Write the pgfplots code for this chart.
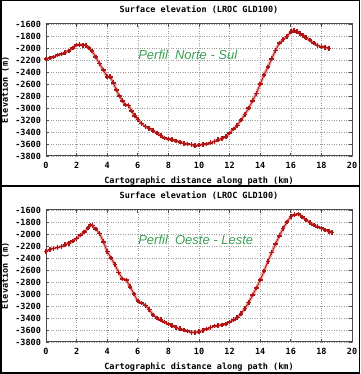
\documentclass[border=0pt]{standalone}
\usepackage{pgfplots}
\pgfplotsset{compat=1.18}
\usepackage{pgfplotstable}
\usepackage{fontspec}
\setmainfont{DejaVu Sans Mono}
\newfontfamily\gpfont{DejaVu Sans Mono Bold}
\newfontfamily\grfont{Liberation Sans}
\definecolor{curve}{RGB}{175,22,22}
\definecolor{glow}{RGB}{240,140,140}
\definecolor{lbl}{RGB}{60,160,85}

\pgfplotstableread{
x y
0 -2185
0.25 -2170
0.5 -2150
0.75 -2120
1.0 -2100
1.25 -2075
1.5 -2050
1.75 -2000
2.0 -1950
2.2 -1940
2.4 -1955
2.6 -1960
2.8 -2000
3.0 -2050
3.25 -2150
3.5 -2260
3.75 -2370
4.0 -2480
4.2 -2480
4.4 -2580
4.6 -2700
4.8 -2800
5.0 -2880
5.2 -2950
5.4 -2960
5.6 -3050
5.8 -3130
6.0 -3190
6.25 -3260
6.5 -3310
6.75 -3340
7.0 -3380
7.25 -3420
7.5 -3460
7.75 -3500
8.0 -3520
8.25 -3530
8.5 -3550
8.75 -3570
9.0 -3590
9.25 -3600
9.5 -3610
9.75 -3630
10.0 -3620
10.25 -3610
10.5 -3600
10.75 -3580
11.0 -3560
11.25 -3530
11.5 -3510
11.75 -3480
12.0 -3420
12.25 -3350
12.5 -3290
12.75 -3200
13.0 -3110
13.25 -3000
13.5 -2880
13.75 -2760
14.0 -2600
14.25 -2450
14.5 -2320
14.75 -2180
15.0 -2040
15.25 -1920
15.5 -1860
15.75 -1810
16.0 -1730
16.2 -1710
16.4 -1730
16.6 -1760
16.8 -1790
17.0 -1830
17.25 -1870
17.5 -1920
17.75 -1960
18.0 -1980
18.25 -1990
18.5 -2010
}\nortesul

\pgfplotstableread{
x y
0 -2290
0.25 -2260
0.5 -2240
0.75 -2225
1.0 -2210
1.25 -2180
1.5 -2155
1.75 -2120
2.0 -2075
2.25 -2020
2.5 -1965
2.75 -1900
2.9 -1850
3.05 -1860
3.25 -1920
3.5 -1990
3.75 -2130
4.0 -2290
4.25 -2400
4.5 -2510
4.75 -2640
5.0 -2750
5.25 -2770
5.5 -2880
5.75 -3000
6.0 -3120
6.25 -3150
6.5 -3190
6.75 -3260
7.0 -3350
7.25 -3400
7.5 -3430
7.75 -3470
8.0 -3500
8.25 -3530
8.5 -3560
8.75 -3580
9.0 -3600
9.25 -3620
9.5 -3640
9.75 -3640
10.0 -3630
10.25 -3610
10.5 -3585
10.75 -3560
11.0 -3535
11.25 -3525
11.5 -3515
11.75 -3500
12.0 -3470
12.25 -3430
12.5 -3390
12.75 -3330
13.0 -3240
13.25 -3140
13.5 -3020
13.75 -2900
14.0 -2770
14.25 -2620
14.5 -2460
14.75 -2310
15.0 -2170
15.25 -2030
15.5 -1910
15.75 -1800
16.0 -1710
16.25 -1680
16.5 -1670
16.75 -1720
17.0 -1770
17.25 -1810
17.5 -1850
17.75 -1880
18.0 -1905
18.25 -1935
18.5 -1960
18.7 -1975
}\oesteleste

\pgfplotsset{
  every axis title shift=0pt,
  gpaxis/.style={
    scale only axis, width=306pt, height=132pt,
    anchor=south west,
    xmin=0, xmax=20, ymin=-3800, ymax=-1600,
    xtick={0,2,...,20}, ytick={-3800,-3600,...,-1600},
    tick align=inside, major tick length=3pt,
    xtick pos=both, ytick pos=both,
    grid=major, grid style={dotted, black!40, line width=0.6pt},
    axis line style={draw=black!70, line width=1pt},
    tick style={black!70, line width=0.8pt},
    /pgf/number format/assume math mode=true,
    /pgf/number format/set thousands separator={},
    ticklabel style={font=\gpfont\fontsize{8.5}{10}\selectfont},
    xticklabel style={yshift=-3pt},
    yticklabel style={xshift=-1.5pt},
    title style={font=\gpfont\fontsize{8.5}{10}\selectfont, at={(axis description cs:0.5,1.106)}, anchor=center},
    xlabel style={font=\gpfont\fontsize{8.5}{10}\selectfont, at={(axis description cs:0.5,-0.19)}, anchor=center},
    ylabel style={font=\gpfont\fontsize{8.5}{10}\selectfont, at={(axis description cs:-0.134,0.5)}, anchor=center},
    title={Surface elevation (LROC GLD100)},
    xlabel={Cartographic distance along path (km)},
    ylabel={Elevation (m)},
  },
  glowline/.style={glow, line width=3.2pt, no marks, opacity=0.7},
  mainline/.style={curve, line width=0.8pt, mark=+, mark size=2.3pt, mark options={line width=1.6pt, curve}},
}

\begin{document}
\begin{tikzpicture}
\useasboundingbox (0pt,0pt) rectangle (360pt,374pt);
\fill[white] (0pt,0pt) rectangle (360pt,374pt);

\begin{axis}[gpaxis, at={(46pt,218pt)}]
\addplot[glowline] table[x=x,y=y] {\nortesul};
\addplot[mainline] table[x=x,y=y] {\nortesul};
\node[anchor=west, text=lbl, font=\grfont\itshape\fontsize{13}{15}\selectfont] at (axis cs:5.8,-2120) {Perfil\ \ Norte - Sul};
\end{axis}

\begin{axis}[gpaxis, at={(46pt,32pt)}]
\addplot[glowline] table[x=x,y=y] {\oesteleste};
\addplot[mainline] table[x=x,y=y] {\oesteleste};
\node[anchor=west, text=lbl, font=\grfont\itshape\fontsize{13}{15}\selectfont] at (axis cs:5.8,-2100) {Perfil\ \ Oeste - Leste};
\end{axis}

\draw[black, line width=1.5pt] (0.75pt,0.75pt) rectangle (359.25pt,373.25pt);
\draw[black, line width=1.8pt] (0pt,188pt) -- (360pt,188pt);
\end{tikzpicture}
\end{document}
